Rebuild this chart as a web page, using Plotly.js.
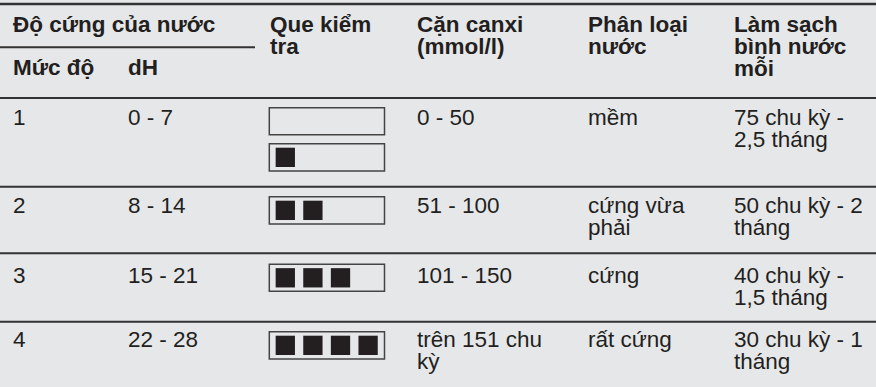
<!DOCTYPE html>
<html>
<head>
<meta charset="utf-8">
<script src="https://cdn.plot.ly/plotly-3.0.1.min.js"></script>
<style>html,body{margin:0;padding:0;background:#e6e7e9;}#chart{width:876px;height:387px;}</style>
</head>
<body>
<div id="chart"></div>
<script>
// ---- data ----
var headerGroup = "Độ cứng của nước";
var headerSub = ["Mức độ", "dH"];
var headerCols = ["Que kiểm\ntra", "Cặn canxi\n(mmol/l)", "Phân loại\nnước", "Làm sạch\nbình nước\nmỗi"];
var levels = ["1", "2", "3", "4"];
var dH = ["0 - 7", "8 - 14", "15 - 21", "22 - 28"];
var stripCounts = [[0, 1], [2], [3], [4]];
var calcium = ["0 - 50", "51 - 100", "101 - 150", "trên 151 chu\nkỳ"];
var waterType = ["mềm", "cứng vừa\nphải", "cứng", "rất cứng"];
var cleaning = ["75 chu kỳ -\n2,5 tháng", "50 chu kỳ - 2\ntháng", "40 chu kỳ -\n1,5 tháng", "30 chu kỳ - 1\ntháng"];

// ---- layout constants ----
var W = 876, H = 387;
var colX = [13, 128, 270, 417, 588, 734];
var FS = 22.5, LH = 21.7;
var txtColor = "#231f20", lineColor = "#333333";
var headBase = [32.5, 54.2, 75.5];
var rowBase = [125.5, 213.5, 283.5, 347.7];
var ruleY = [98, 186.7, 253.3, 321.7];
var stripBoxes = [[[107.7, 134.7], [143.7, 171]], [[196.7, 224]], [[264.3, 291.3]], [[331.7, 359]]];
var boxX0 = 269.3, boxX1 = 384.5, sqX0 = 285.3, sqPitch = 27.6, sqSize = 19.3;

var annotations = [];
function addText(txt, x, baseline, bold) {
  txt.split("\n").forEach(function (ln, i) {
    annotations.push({
      x: x - 2, y: baseline + i * LH - 0.35 * FS, xref: "x", yref: "y",
      xanchor: "left", yanchor: "middle", showarrow: false, text: bold ? "<b>" + ln + "</b>" : ln,
      font: {family: "Liberation Sans, Arial, sans-serif", size: FS, color: txtColor}
    });
  });
}
addText(headerGroup, colX[0], headBase[0], true);
addText(headerSub[0], colX[0], headBase[2], true);
addText(headerSub[1], colX[1], headBase[2], true);
headerCols.forEach(function (h, i) { addText(h, colX[2 + i], headBase[0], true); });
for (var r = 0; r < levels.length; r++) {
  addText(levels[r], colX[0], rowBase[r], false);
  addText(dH[r], colX[1], rowBase[r], false);
  addText(calcium[r], colX[3], rowBase[r], false);
  addText(waterType[r], colX[4], rowBase[r], false);
  addText(cleaning[r], colX[5], rowBase[r], false);
}

var shapes = [];
function hline(y, x0, x1, w) {
  shapes.push({type: "line", xref: "x", yref: "y", x0: x0, x1: x1, y0: y, y1: y, line: {color: lineColor, width: w}});
}
hline(4, 0, W, 2.5);
hline(47.2, 0, 255, 2);
ruleY.forEach(function (y) { hline(y, 0, W, 2); });

var sqX = [], sqY = [];
stripCounts.forEach(function (counts, r) {
  counts.forEach(function (n, k) {
    var b = stripBoxes[r][k];
    shapes.push({type: "rect", xref: "x", yref: "y", x0: boxX0, x1: boxX1, y0: b[0], y1: b[1],
      line: {color: "#444444", width: 1.5}, fillcolor: "rgba(0,0,0,0)"});
    for (var j = 0; j < n; j++) {
      sqX.push(sqX0 + j * sqPitch);
      sqY.push((b[0] + b[1]) / 2);
    }
  });
});

var trace = {
  x: sqX, y: sqY, type: "scatter", mode: "markers", hoverinfo: "skip",
  marker: {symbol: "square", size: sqSize, color: "#231f20", line: {width: 0}}
};

var layout = {
  width: W, height: H, margin: {l: 0, r: 0, t: 0, b: 0},
  paper_bgcolor: "#e6e7e9", plot_bgcolor: "#e6e7e9", showlegend: false,
  xaxis: {range: [0, W], visible: false, fixedrange: true},
  yaxis: {range: [H, 0], visible: false, fixedrange: true},
  shapes: shapes, annotations: annotations
};
Plotly.newPlot("chart", [trace], layout, {displayModeBar: false, staticPlot: true});
</script>
</body>
</html>
